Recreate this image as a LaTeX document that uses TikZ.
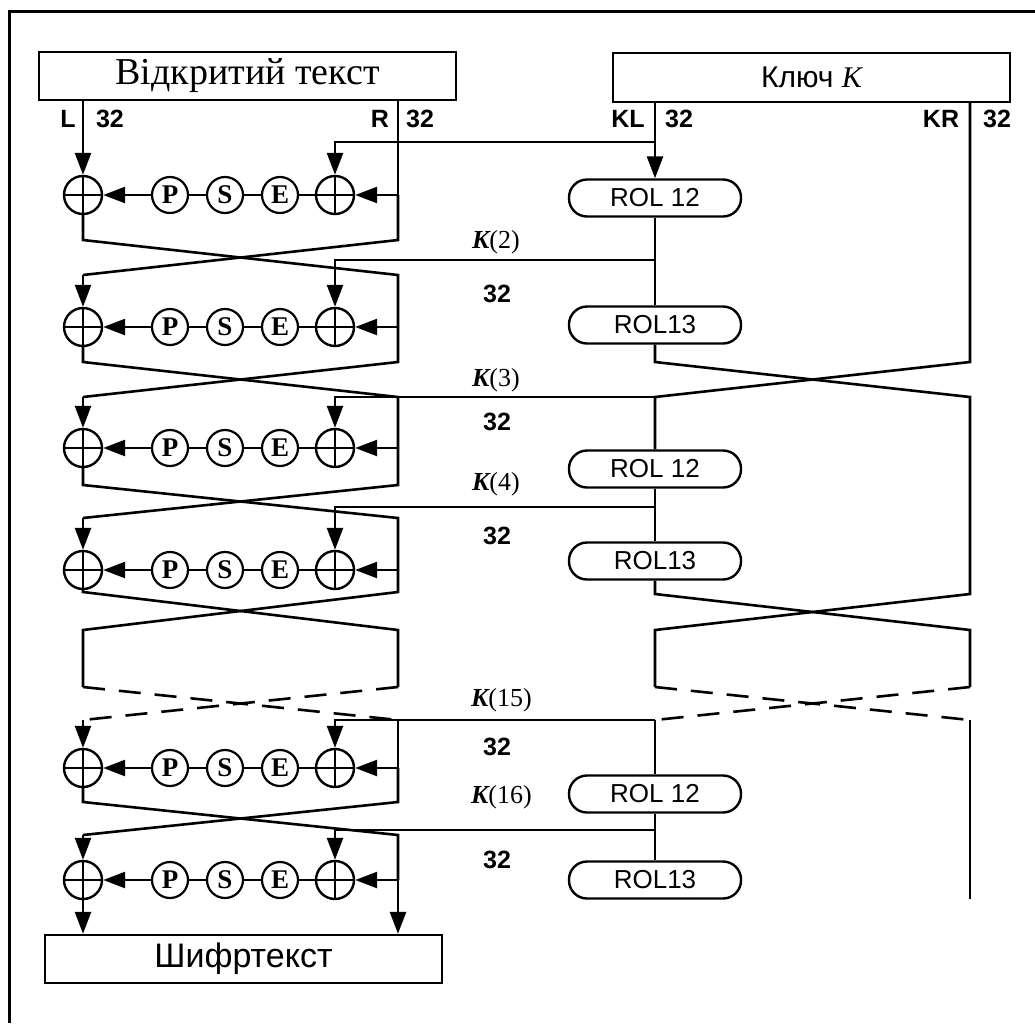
\documentclass[tikz,border=0pt]{standalone}
\usepackage{fontspec}
\setmainfont{Liberation Sans}
\newfontfamily\tnr{Liberation Serif}
\usetikzlibrary{arrows.meta,positioning,calc}

\begin{document}
\begin{tikzpicture}[x=1pt,y=-1pt,line width=2.6pt,
    arr/.style={-{Triangle[length=22pt,width=16pt]}},
    skipline/.style={dash pattern=on 22pt off 14pt},
    xornode/.style={circle,draw,line width=2.4pt,minimum size=38pt,inner sep=0pt,
      path picture={\draw[line width=2.4pt]
        (path picture bounding box.north) -- (path picture bounding box.south)
        (path picture bounding box.west) -- (path picture bounding box.east);}},
    fnode/.style={circle,draw,line width=2.2pt,minimum size=36pt,inner sep=0pt,
      font=\tnr\bfseries\fontsize{27}{27}\selectfont},
    rolnode/.style={draw,line width=2.4pt,rounded corners=18pt,minimum width=172pt,
      minimum height=37pt,inner sep=0pt,font=\fontsize{26}{26}\selectfont},
    textbox/.style={draw,line width=2.4pt,inner sep=0pt},
    lbl/.style={font=\bfseries\fontsize{25}{25}\selectfont,inner sep=0pt},
    klbl/.style={font=\tnr\fontsize{26}{26}\selectfont,anchor=east,inner sep=0pt}
  ]
    \useasboundingbox (0,0) rectangle (1035,1023);
    \draw[line width=3pt] (1035,11) -- (9,11) -- (9,1023);

    % boxes
    \node[textbox,minimum width=417pt,minimum height=48pt,
      font=\tnr\fontsize{38}{38}\selectfont] (ptext) at (247.5,76) {Відкритий текст};
    \node[textbox,minimum width=397pt,minimum height=49pt,
      font=\fontsize{30}{30}\selectfont] (kbox) at (811.5,77.5) {Ключ {\tnr\itshape K}};
    \node[textbox,minimum width=397pt,minimum height=48pt,
      font=\fontsize{34}{34}\selectfont] (ctext) at (243.5,959) {Шифртекст};

    \node[lbl] (lL) at (68,119) {L};
    \node[lbl] (lL32) at (110,119) {32};
    \node[lbl] (lR) at (380,119) {R};
    \node[lbl] (lR32) at (420,119) {32};
    \node[lbl] (lKL) at (628,119) {KL};
    \node[lbl] (lKL32) at (679,119) {32};
    \node[lbl] (lKR) at (941,119) {KR};
    \node[lbl] (lKR32) at (997,119) {32};

    % rounds
    \foreach \i/\y in {1/195,2/327,3/448,4/570,5/768,6/880}{
      \node[xornode] (xl\i) at (83,\y) {};
      \node[fnode] (p\i) at (170,\y) {P};
      \node[fnode] (s\i) at (225,\y) {S};
      \node[fnode] (e\i) at (280,\y) {E};
      \node[xornode] (xr\i) at (335,\y) {};
      \coordinate (rt\i) at (398,\y);
      \draw (xr\i) -- (e\i) -- (s\i) -- (p\i);
      \draw[arr] (p\i) -- (xl\i);
      \draw[arr] (rt\i) -- (xr\i);
    }

    % key schedule
    \foreach \i/\y/\t in {1/198/ROL 12,2/325/ROL13,3/469/ROL 12,4/561/ROL13,5/794/ROL 12,6/880/ROL13}
      \node[rolnode] (rol\i) at (655,\y) {\t};
    \foreach \i/\k in {1/142,2/260,3/397,4/507,5/720,6/830}{
      \coordinate (kt\i) at (655,\k);
      \draw[arr] (kt\i) -| (xr\i);
    }

    \node[klbl] (k2) at (521,242) {{\bfseries\itshape K}(2)};
    \node[klbl] (k3) at (521,380) {{\bfseries\itshape K}(3)};
    \node[klbl] (k4) at (521,484) {{\bfseries\itshape K}(4)};
    \node[klbl] (k15) at (533,700) {{\bfseries\itshape K}(15)};
    \node[klbl] (k16) at (533,797) {{\bfseries\itshape K}(16)};
    \node[lbl] (w2) at (497,294) {32};
    \node[lbl] (w3) at (497,422) {32};
    \node[lbl] (w4) at (497,536) {32};
    \node[lbl] (w15) at (497,747) {32};
    \node[lbl] (w16) at (497,860) {32};

    % left crossings
    \draw[arr] (xl1 |- ptext.south) -- (xl1);
    \draw (rt1 |- ptext.south) -- (rt1);
    \foreach \i/\j/\a/\b in {1/2/240/275,2/3/362/397,3/4/485/518,5/6/802/835}{
      \coordinate (cla\i) at (83,\a);
      \coordinate (cra\i) at (398,\a);
      \coordinate (clb\i) at (83,\b);
      \coordinate (crb\i) at (398,\b);
      \draw (xl\i) -- (cla\i) -- (crb\i) -- (rt\j);
      \draw (rt\i) -- (cra\i) -- (clb\i);
      \draw[arr] (clb\i) -- (xl\j);
    }
    \coordinate (cla4) at (83,592);
    \coordinate (cra4) at (398,592);
    \coordinate (clb4) at (83,630);
    \coordinate (crb4) at (398,630);
    \coordinate (cld4) at (83,687);
    \coordinate (crd4) at (398,687);
    \coordinate (cle4) at (83,720);
    \coordinate (cre4) at (398,720);
    \draw (xl4) -- (cla4) -- (crb4) -- (crd4);
    \draw (rt4) -- (cra4) -- (clb4) -- (cld4);
    \draw[skipline] (cld4) -- (cre4);
    \draw[skipline] (crd4) -- (cle4);
    \draw[arr] (cle4) -- (xl5);
    \draw (cre4) -- (rt5);
    \draw[arr] (xl6) -- (xl6 |- ctext.north);
    \draw[arr] (rt6) -- (rt6 |- ctext.north);

    % right crossings
    \coordinate (kla2) at (655,362);
    \coordinate (kra2) at (970,362);
    \coordinate (klb2) at (655,397);
    \coordinate (krb2) at (970,397);
    \coordinate (kla4) at (655,594);
    \coordinate (kra4) at (970,594);
    \coordinate (klb4) at (655,630);
    \coordinate (krb4) at (970,630);
    \coordinate (kld4) at (655,687);
    \coordinate (krd4) at (970,687);
    \coordinate (kle4) at (655,720);
    \coordinate (kre4) at (970,720);
    \coordinate (kend) at (970,899);
    \draw[arr] (kt1 |- kbox.south) -- (rol1);
    \draw (rol1) -- (rol2);
    \draw (rol2) -- (kla2) -- (krb2) -- (kra4) -- (klb4) -- (kld4);
    \draw (kra2 |- kbox.south) -- (kra2) -- (klb2) -- (rol3);
    \draw (rol3) -- (rol4);
    \draw (rol4) -- (kla4) -- (krb4) -- (krd4);
    \draw[skipline] (kld4) -- (kre4);
    \draw[skipline] (krd4) -- (kle4);
    \draw (kle4) -- (rol5);
    \draw (rol5) -- (rol6);
    \draw (kre4) -- (kend);
  \end{tikzpicture}
\end{document}
